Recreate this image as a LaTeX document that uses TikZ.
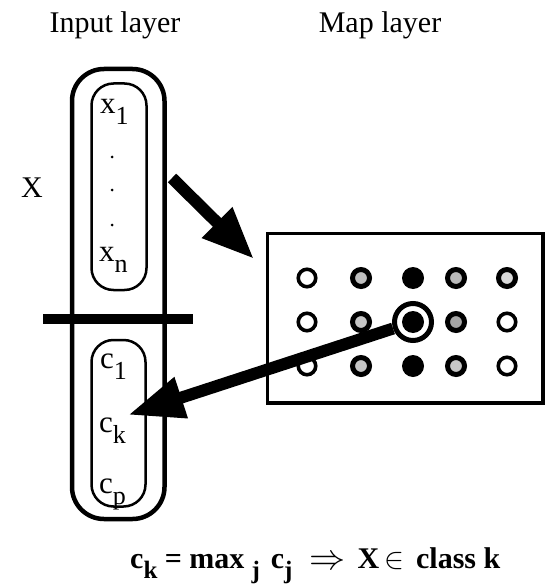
\documentclass[tikz,border=0pt]{standalone}
\usepackage{fontspec}
\setmainfont{Liberation Serif}
\usetikzlibrary{arrows.meta}
\newcommand{\lbl}[2]{#1\raisebox{-11pt}{\fontsize{26}{26}\selectfont #2}}
\newcommand{\fsub}[1]{\raisebox{-10pt}{\fontsize{25}{25}\selectfont #1}}
\tikzset{
  pillout/.style={draw, line width=4.5pt, rounded corners=32pt, inner sep=0pt},
  pillin/.style={draw, line width=2.5pt, rounded corners=22pt, inner sep=0pt},
  wcirc/.style={circle, draw, line width=3.6pt, fill=white, minimum size=17.5pt, inner sep=0pt},
  gcirc/.style={circle, draw, line width=5pt, fill=gray!55, minimum size=17pt, inner sep=0pt},
  bcirc/.style={circle, fill=black, minimum size=22pt, inner sep=0pt},
  dotn/.style={circle, fill=black, minimum size=3pt, inner sep=0pt},
  ttl/.style={font=\fontsize{30}{30}\selectfont, inner sep=0pt},
  lab/.style={font=\fontsize{31}{31}\selectfont, inner sep=0pt, anchor=base west},
  bigarrow/.style={line width=12pt},
}
\begin{document}
\begin{tikzpicture}[x=1pt,y=-1pt]
\useasboundingbox (0,0) rectangle (546,588);
% titles
\node[ttl, anchor=base] (tin) at (115,33) {Input layer};
\node[ttl, anchor=base] (tmap) at (380,33) {Map layer};
\node[ttl, anchor=base] (xlab) at (32,197) {X};
% input layer pills
\node[pillout, minimum width=92.5pt, minimum height=450pt] (outer) at (118.25,294) {};
\node[pillin, minimum width=55pt, minimum height=206.5pt] (upper) at (119,186.75) {};
\node[pillin, minimum width=54pt, minimum height=166.5pt] (lower) at (118.5,423.25) {};
% bar
\coordinate (barL) at (43,319);
\coordinate (barR) at (193,319);
\draw[line width=10pt] (barL) -- (barR);
% labels
\node[lab] (x1) at (100,114) {\lbl{x}{1}};
\node[dotn] (d1) at (112,157) {};
\node[dotn] (d2) at (112,190) {};
\node[dotn] (d3) at (112,225) {};
\node[lab] (xn) at (99,261) {\lbl{x}{n}};
\node[lab] (c1) at (100,368) {\lbl{c}{1}};
\node[lab] (ck) at (99,432) {\lbl{c}{k}};
\node[lab] (cp) at (99,493) {\lbl{c}{p}};
% map
\node[draw, line width=3.5pt, minimum width=275.5pt, minimum height=169.5pt, inner sep=0pt] (map) at (405.25,318.25) {};
\node[wcirc] (m11) at (307,278) {};
\node[gcirc, fill=gray!50] (m12) at (361,278) {};
\node[bcirc] (m13) at (413,278) {};
\node[gcirc] (m14) at (456,278) {};
\node[gcirc, fill=gray!30] (m15) at (507,278) {};
\node[wcirc] (m21) at (307,322) {};
\node[gcirc, fill=gray!45] (m22) at (361,322) {};
\node[bcirc] (m23) at (413,322) {};
\node[circle, draw, line width=5pt, minimum size=37pt, inner sep=0pt] (winring) at (413,322) {};
\node[gcirc, fill=gray!70] (m24) at (456,322) {};
\node[wcirc] (m25) at (507,322) {};
\node[wcirc] (m31) at (307,366) {};
\node[gcirc, fill=gray!45] (m32) at (361,366) {};
\node[bcirc] (m33) at (413,366) {};
\node[gcirc, fill=gray!45] (m34) at (456,366) {};
\node[wcirc] (m35) at (507,366) {};
% arrows
\coordinate (a1s) at (172,178);
\coordinate (a1t) at (254,259);
\draw[bigarrow, -{Triangle[length=52pt,width=40pt]}] (a1s) -- (a1t);
\coordinate (tipk) at (128,415);
\draw[bigarrow, -{Triangle[length=56pt,width=40pt]}] (winring) -- (tipk);
% formula
\node[anchor=base west, inner sep=0pt, font=\fontsize{30}{30}\selectfont\bfseries] (formula) at (130,568)
  {c\fsub{k} = max\hspace{7pt}\fsub{j}\hspace{11pt}c\fsub{j}\hspace{17pt}\raisebox{-1pt}{\scalebox{1.45}{$\Rightarrow$}}\hspace{12pt}X\,\scalebox{1.2}{$\in$}\hspace{12pt}class k};
\end{tikzpicture}
\end{document}
